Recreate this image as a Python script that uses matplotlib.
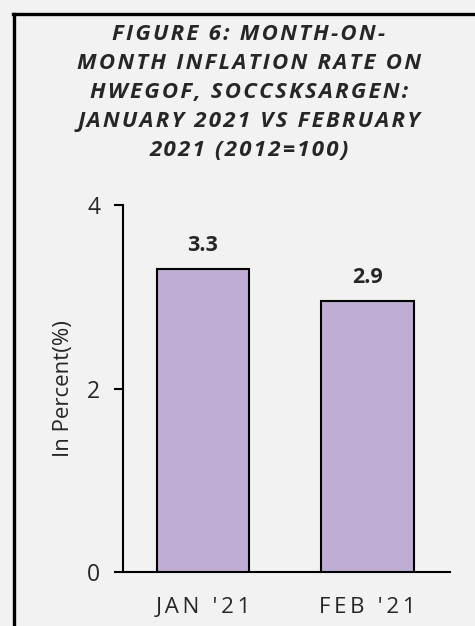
import matplotlib.pyplot as plt

# --- Data ---
months = ["JAN '21", "FEB '21"]
inflation = [3.3, 2.95]
value_labels = ["3.3", "2.9"]
yticks = [0, 2, 4]
title_lines = [
    "FIGURE 6: MONTH-ON-",
    "MONTH INFLATION RATE ON",
    "HWEGOF, SOCCSKSARGEN:",
    "JANUARY 2021 VS FEBRUARY",
    "2021 (2012=100)",
]

BG = '#f2f2f2'
BAR = '#bfadd3'
TXT = '#262626'


def spaced(s, sep='\u200a'):
    # crude letter spacing
    return sep.join(s)


fig = plt.figure(figsize=(4.75, 6.26), dpi=100, facecolor=BG)
ax = fig.add_axes([0.259, 0.0855, 0.688, 0.587], facecolor=BG)

x = range(len(months))
ax.bar(x, inflation, width=0.56, color=BAR, edgecolor='black', linewidth=1.5, zorder=3)

for xi, v, lab in zip(x, inflation, value_labels):
    ax.text(xi, v + 0.2, lab, ha='center', va='baseline', fontsize=15.5,
            fontweight='bold', color=TXT, family='Open Sans')

ax.set_xlim(-0.486, 1.5)
ax.set_ylim(0, 4)
ax.set_yticks(yticks)
ax.set_yticklabels([str(t) for t in yticks], fontsize=16.5, color=TXT, family='Open Sans')
ax.set_xticks(list(x))
ax.set_xticklabels([spaced(m, '\u2009') for m in months], fontsize=16, color=TXT,
                   family=['Open Sans', 'DejaVu Sans'])
ax.tick_params(axis='x', length=0, pad=18)
ax.tick_params(axis='y', length=6.5, width=1.5, pad=10, direction='out')

for side in ['top', 'right']:
    ax.spines[side].set_visible(False)
ax.spines['left'].set_linewidth(1.5)
ax.spines['bottom'].set_linewidth(1.5)

ax.set_ylabel('In Percent(%)', fontsize=16, color=TXT, family='Open Sans', labelpad=9)

fig.text(0.524, 0.961, "\n".join(spaced(l) for l in title_lines), ha='center', va='top',
         fontsize=16, fontweight='bold', fontstyle='italic', color=TXT,
         family=['Open Sans', 'DejaVu Sans'], linespacing=1.49)

# outer frame (only top and left edges fall inside the picture)
fig.add_artist(plt.Line2D([0.030, 0.030], [0.0, 0.978], color='black', lw=2.4,
                          transform=fig.transFigure))
fig.add_artist(plt.Line2D([0.028, 1.0], [0.978, 0.978], color='black', lw=2.4,
                          transform=fig.transFigure))

fig.savefig('out.png', dpi=100, facecolor=BG)
